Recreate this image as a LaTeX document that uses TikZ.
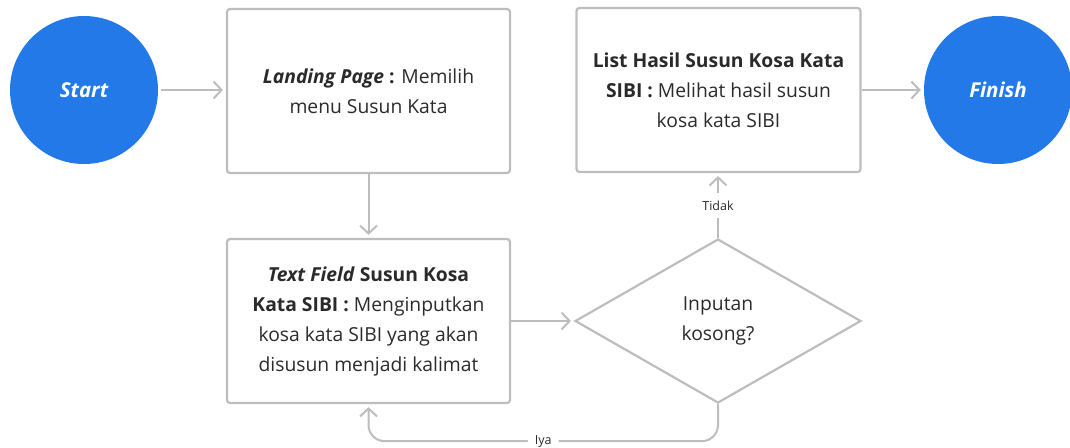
\documentclass[tikz,border=0pt]{standalone}
\usepackage{fontspec}
\setmainfont{Open Sans}
\usetikzlibrary{shapes.geometric,arrows.meta}
\definecolor{bluefill}{HTML}{2479E8}
\definecolor{edgegray}{HTML}{BDBDBD}
\definecolor{txt}{HTML}{2A2A2A}
\begin{document}
\begin{tikzpicture}[x=1pt,y=-1pt,
  term/.style={circle, fill=bluefill, minimum size=148pt, inner sep=0pt, text=white,
    font=\fontsize{20.5}{24}\selectfont\bfseries\itshape},
  procbox/.style={draw=edgegray, line width=2.2pt, rounded corners=3pt, minimum width=283pt,
    minimum height=164pt, align=center, text=txt, inner sep=0pt,
    font=\fontsize{19.3}{30}\selectfont},
  decide/.style={diamond, draw=edgegray, line width=2.2pt, minimum width=286pt,
    minimum height=164pt, inner sep=0pt, align=center, text=txt,
    font=\fontsize{19.3}{30}\selectfont},
  flow/.style={draw=edgegray, line width=2pt, -{Straight Barb[length=8pt,width=17pt]},
    shorten >=3pt},
  lbl/.style={fill=white, text=txt, inner xsep=7pt, inner ysep=8pt, font=\fontsize{12.5}{14}\selectfont}]
\useasboundingbox (0,0) rectangle (1070,447);
\node[term] (start) at (84,90) {Start};
\node[procbox] (landing) at (368.5,91) {\textbf{\textit{Landing Page} :} Memilih\\menu Susun Kata};
\node[procbox] (field) at (368.5,321) {\textbf{\textit{Text Field} Susun Kosa}\\\textbf{Kata SIBI :} Menginputkan\\kosa kata SIBI yang akan\\disusun menjadi kalimat};
\node[decide] (dec) at (718,321) {Inputan\\kosong?};
\node[procbox, minimum width=284pt] (list) at (718.5,90) {\textbf{List Hasil Susun Kosa Kata}\\\textbf{SIBI :} Melihat hasil susun\\kosa kata SIBI};
\node[term] (finish) at (998,90) {Finish};
\draw[flow, shorten <=3pt] (start) -- (landing.west |- start.east);
\draw[flow] (landing) -- (field);
\draw[flow] (field) -- (dec);
\draw[flow] (dec.north) -- (dec.north |- list.south) node[lbl, pos=0.5] {Tidak};
\draw[flow] (list) -- (finish);
\draw[flow, rounded corners=16pt] (dec.south) -- ++(0,37) -| (field.south) node[lbl, pos=0.25] {Iya};
\end{tikzpicture}
\end{document}
